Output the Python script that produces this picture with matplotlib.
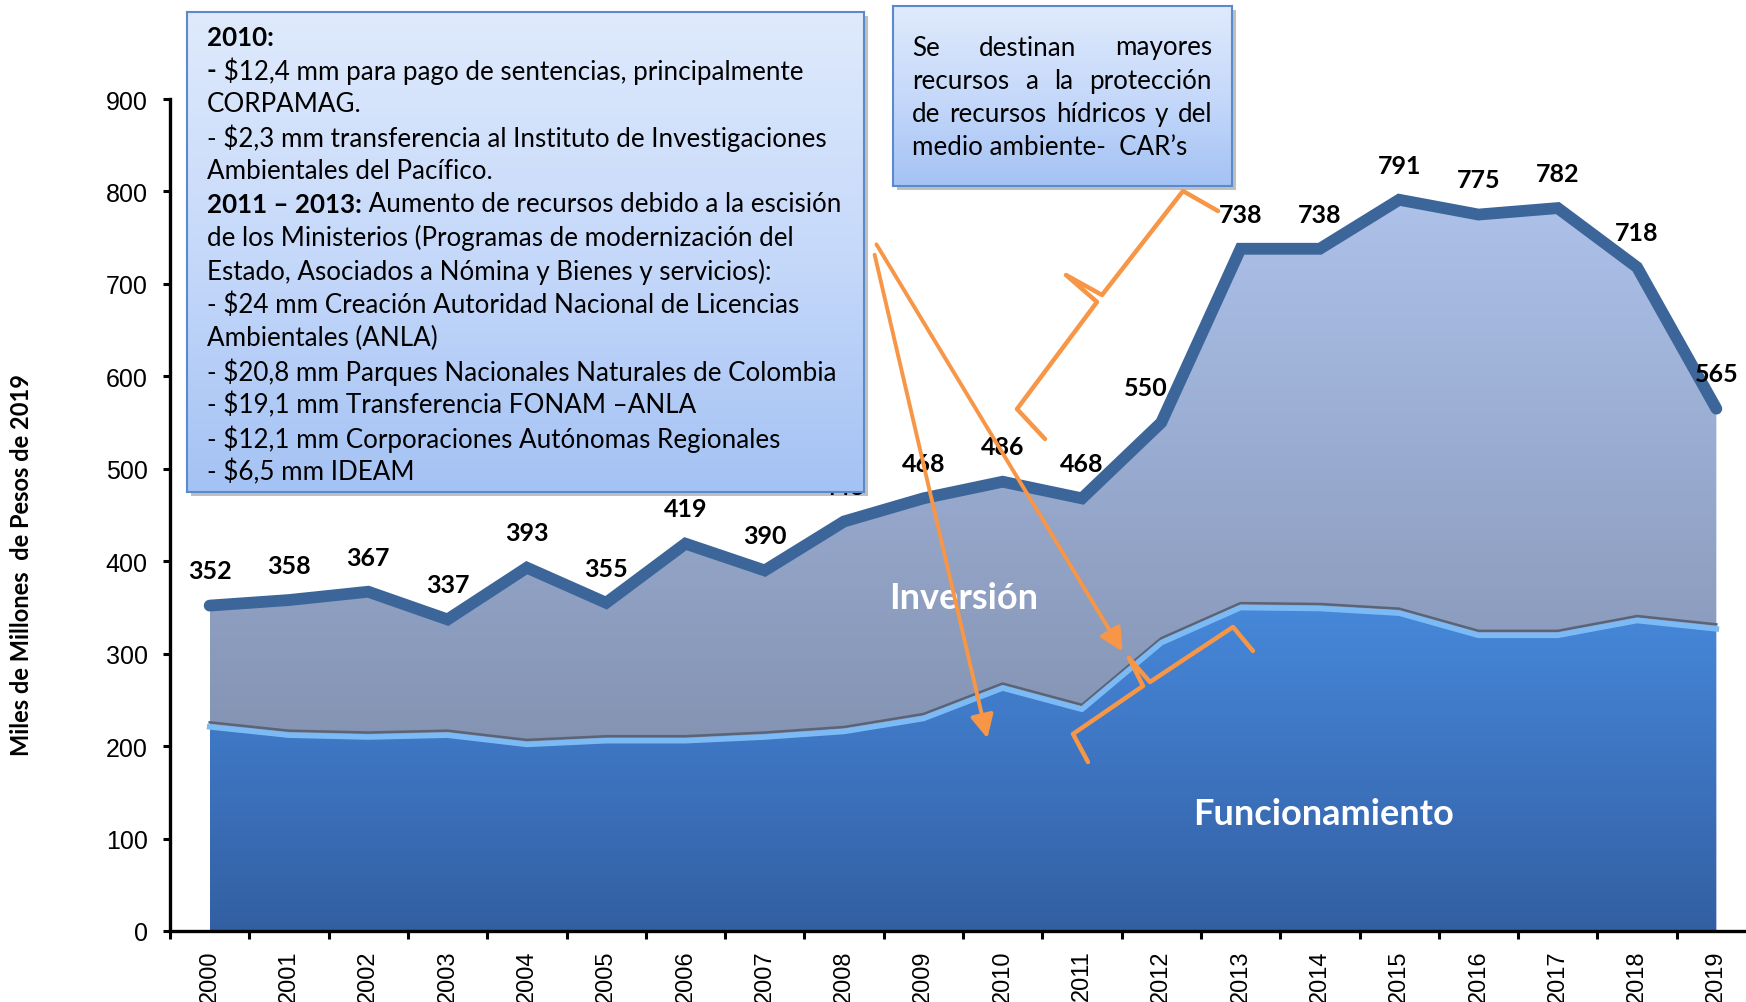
import numpy as np
import matplotlib.pyplot as plt
from matplotlib.patches import Polygon, Rectangle, FancyArrowPatch
from matplotlib.colors import LinearSegmentedColormap
from matplotlib.lines import Line2D
from matplotlib.transforms import offset_copy

years = [str(y) for y in range(2000, 2020)]
total = [352, 358, 367, 337, 393, 355, 419, 390, 443, 468,
         486, 468, 550, 738, 738, 791, 775, 782, 718, 565]
funcionamiento = [223, 214, 212, 214, 204, 208, 208, 212, 218, 232,
                  265, 242, 314, 352, 351, 346, 322, 322, 338, 329]
yticks = list(range(0, 1000, 100))

box1_lines = [
    [("2010:", "bold")],
    [("-", "bold"), (" $12,4 mm para pago de sentencias, principalmente", "normal")],
    [("CORPAMAG.", "normal")],
    [("- $2,3 mm transferencia al Instituto de Investigaciones", "normal")],
    [("Ambientales del Pacífico.", "normal")],
    [("2011 – 2013:", "bold"), (" Aumento de recursos debido a la escisión", "normal")],
    [("de los Ministerios (Programas de modernización del", "normal")],
    [("Estado, Asociados a Nómina y Bienes y servicios):", "normal")],
    [("- $24 mm Creación Autoridad Nacional de Licencias", "normal")],
    [("Ambientales (ANLA)", "normal")],
    [("- $20,8 mm Parques Nacionales Naturales de Colombia", "normal")],
    [("- $19,1 mm Transferencia FONAM –ANLA", "normal")],
    [("- $12,1 mm Corporaciones Autónomas Regionales", "normal")],
    [("- $6,5 mm IDEAM", "normal")],
]
box2_lines = ["Se destinan mayores", "recursos a la protección",
              "de recursos hídricos y del", "medio ambiente-  CAR’s"]

W, H = 1746, 1003
FONT = "Lato"
TICKFONT = "Liberation Sans"
ORANGE = "#f79646"

fig = plt.figure(figsize=(W / 100, H / 100), dpi=100)
ax = fig.add_axes([170 / W, 1 - 932 / H, 1586 / W, 832 / H])
x = np.arange(len(years))
ax.set_xlim(-0.5, len(years) - 0.5)
ax.set_ylim(0, 900)

# gradient-filled areas
upper = Polygon(list(zip(x, total)) + list(zip(x[::-1], funcionamiento[::-1])),
                facecolor="none", edgecolor="none")
lower = Polygon(list(zip(x, funcionamiento)) + [(x[-1], 0), (x[0], 0)],
                facecolor="none", edgecolor="none")
ax.add_patch(upper)
ax.add_patch(lower)
grad = np.linspace(0, 1, 256).reshape(-1, 1)
cm_up = LinearSegmentedColormap.from_list("up", ["#8493b2", "#98aacf", "#aec2ea"])
cm_lo = LinearSegmentedColormap.from_list("lo", ["#335fa2", "#3d74c0", "#4789db"])
im1 = ax.imshow(grad, extent=(0, 19, 200, 800), origin="lower", aspect="auto",
                cmap=cm_up, zorder=1)
im1.set_clip_path(upper)
im2 = ax.imshow(grad, extent=(0, 19, 0, 360), origin="lower", aspect="auto",
                cmap=cm_lo, zorder=1)
im2.set_clip_path(lower)

# soft edges between the areas
ax.plot(x, funcionamiento, color="#5a6476", lw=1.8, zorder=2,
        transform=offset_copy(ax.transData, fig=fig, y=2.5, units="dots"))
ax.plot(x, funcionamiento, color="#7cbaf6", lw=4, zorder=2,
        transform=offset_copy(ax.transData, fig=fig, y=-2, units="dots"))

ax.plot(x, total, color="#3c6699", lw=8.5, solid_joinstyle="miter",
        solid_capstyle="round", zorder=3)

nudge = {12: -11}
for i, v in enumerate(total):
    ax.annotate(str(v), (i, v), xytext=(nudge.get(i, 0), 25), textcoords="offset points",
                ha="center", va="center", fontsize=18, fontweight="bold",
                family=FONT, zorder=4)

ax.text(9.51, 361, "Inversión", color="white", fontsize=26, fontweight="bold",
        family=FONT, ha="center", va="center", zorder=4)
ax.text(14.05, 127, "Funcionamiento", color="white", fontsize=26, fontweight="bold",
        family=FONT, ha="center", va="center", zorder=4)

for s in ["top", "right"]:
    ax.spines[s].set_visible(False)
for s in ["left", "bottom"]:
    ax.spines[s].set_linewidth(2.4)
ax.set_yticks(yticks)
ax.tick_params(axis="y", length=5, width=2.2, pad=11)
for lbl in ax.get_yticklabels():
    lbl.set_fontsize(18)
    lbl.set_family(TICKFONT)
ax.set_xticks(np.arange(-0.5, len(years), 1.0))
ax.set_xticklabels([])
ax.tick_params(axis="x", which="major", length=6, width=2.2)
ax.set_xticks(x, minor=True)
ax.set_xticklabels(years, minor=True, rotation=90, fontsize=17, family=TICKFONT)
ax.tick_params(axis="x", which="minor", length=0, pad=13)

fig.text(22 / W, 1 - 565 / H, "Miles de Millones  de Pesos de 2019", rotation=90,
         ha="center", va="center", fontsize=17, fontweight="bold", family=FONT)

renderer = fig.canvas.get_renderer()


def px(xp, yp):
    return xp / W, 1 - yp / H


def make_box(x0, y0, x1, y1):
    sh = Rectangle(px(x0 + 4, y1 + 4), (x1 - x0) / W, (y1 - y0) / H,
                   transform=fig.transFigure, facecolor="#000000", alpha=0.25,
                   edgecolor="none", zorder=5)
    fig.add_artist(sh)
    bax = fig.add_axes([x0 / W, 1 - y1 / H, (x1 - x0) / W, (y1 - y0) / H], zorder=6)
    cm = LinearSegmentedColormap.from_list("box", ["#a4c2f4", "#c6d9fa", "#dfeafc"])
    bax.imshow(grad, extent=(0, 1, 0, 1), origin="lower", aspect="auto", cmap=cm)
    bax.set_xlim(0, 1)
    bax.set_ylim(0, 1)
    bax.set_xticks([])
    bax.set_yticks([])
    for s in bax.spines.values():
        s.set_color("#5a89cc")
        s.set_linewidth(1.5)
    return bax


make_box(187, 13, 864, 493)
make_box(893, 7, 1232, 187)

BOX_FS = 18.7
for k, segs in enumerate(box1_lines):
    xc = 207
    yc = 38 + k * 33.4
    for txt, wt in segs:
        t = fig.text(*px(xc, yc), txt, fontsize=BOX_FS, fontweight=wt, family=FONT,
                     ha="left", va="center", zorder=8)
        xc += t.get_window_extent(renderer).width

for k, line in enumerate(box2_lines):
    yc = 48 + k * 33.3
    words = line.split(" ") if k < len(box2_lines) - 1 else [line]
    texts = [fig.text(*px(912, yc), w, fontsize=BOX_FS, family=FONT,
                      ha="left", va="center", zorder=8) for w in words]
    if len(texts) > 1:
        widths = [t.get_window_extent(renderer).width for t in texts]
        gap = (1212 - 912 - sum(widths)) / (len(texts) - 1)
        xc = 912
        for t, wd in zip(texts, widths):
            t.set_position(px(xc, yc))
            xc += wd + gap


def orange_line(pts, lw=3.2):
    xs = [p[0] / W for p in pts]
    ys = [1 - p[1] / H for p in pts]
    fig.add_artist(Line2D(xs, ys, transform=fig.transFigure, color=ORANGE, lw=lw,
                          solid_joinstyle="round", solid_capstyle="round", zorder=9))


def orange_arrow(p0, p1):
    fig.add_artist(FancyArrowPatch(px(*p0), px(*p1), transform=fig.transFigure,
                                   arrowstyle="-|>,head_length=0.7,head_width=0.35",
                                   mutation_scale=20, color=ORANGE, lw=2.8, zorder=9))


orange_arrow((874, 253), (988, 742))
orange_arrow((875, 243), (1124, 655))
orange_line([(1045, 440), (1017, 410), (1097, 303), (1066, 276),
             (1102, 296), (1183, 192), (1218, 212)])
orange_line([(1088, 763), (1073, 735), (1143, 687), (1129, 659),
             (1150, 683), (1233, 628), (1253, 652)])

fig.savefig("out.png", dpi=100)
